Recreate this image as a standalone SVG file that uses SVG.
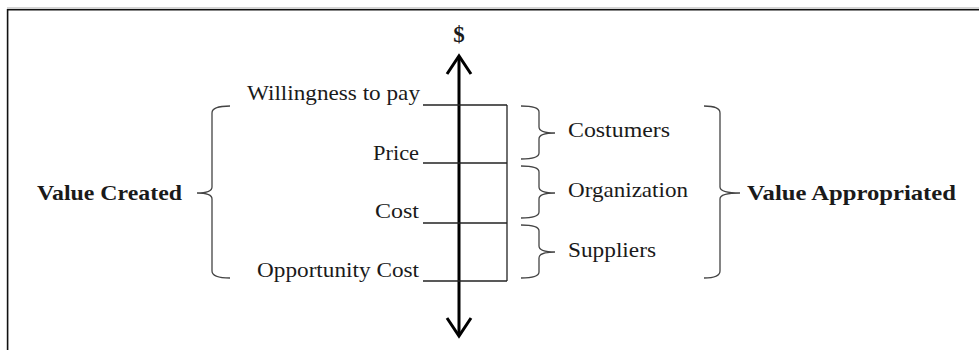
<svg xmlns="http://www.w3.org/2000/svg" width="979" height="350" viewBox="0 0 979 350">
<style>
.t{font-family:"Liberation Serif","Times New Roman",serif;font-size:22px;fill:#1a1a1a}
.b{font-family:"Liberation Serif","Times New Roman",serif;font-size:21.5px;font-weight:bold;fill:#1a1a1a}
.br{fill:none;stroke:#444;stroke-width:1.3}
.ln{fill:none;stroke:#222;stroke-width:1.3}
.ar{fill:none;stroke:#000;stroke-width:3}
</style>
<rect width="979" height="350" fill="#fff"/>
<g id="frame">
<line x1="7" y1="8" x2="979" y2="8" stroke="#aaa" stroke-width="1"/>
<line x1="7" y1="9.8" x2="979" y2="9.8" stroke="#111" stroke-width="1.6"/>
<line x1="7.6" y1="9" x2="7.6" y2="350" stroke="#111" stroke-width="1.6"/>
</g>
<g id="connectors">
<line class="ar" x1="459" y1="56" x2="459" y2="336"/>
<polyline class="ar" points="447,74 459,56 471,74"/>
<polyline class="ar" points="447,318 459,336 471,318"/>
</g>
<g id="dollar"><text class="b" x="459" y="42" text-anchor="middle" style="font-size:23px">$</text></g>
<g id="box">
<line class="ln" x1="423" y1="105" x2="507" y2="105"/>
<line class="ln" x1="423" y1="163" x2="507" y2="163"/>
<line class="ln" x1="423" y1="223" x2="507" y2="223"/>
<line class="ln" x1="423" y1="281" x2="507" y2="281"/>
<line class="ln" x1="507" y1="105" x2="507" y2="281"/>
</g>
<g id="wtp"><text class="t" x="247" y="100" textLength="173" lengthAdjust="spacingAndGlyphs">Willingness to pay</text></g>
<g id="price"><text class="t" x="373" y="160" textLength="46" lengthAdjust="spacingAndGlyphs">Price</text></g>
<g id="cost"><text class="t" x="375" y="218" textLength="44" lengthAdjust="spacingAndGlyphs">Cost</text></g>
<g id="oppcost"><text class="t" x="257" y="277" textLength="162" lengthAdjust="spacingAndGlyphs">Opportunity Cost</text></g>
<g id="value-created">
<path class="br" d="M230 106 Q212 106 212 113 L212 187 Q212 193 197 193 Q212 193 212 199 L212 271 Q212 278 230 278"/>
<text class="b" x="37" y="200" textLength="145" lengthAdjust="spacingAndGlyphs">Value Created</text>
</g>
<g id="costumers">
<path class="br" d="M521 106 Q539 106 539 112 L539 127 Q539 133 555 133 Q539 133 539 139 L539 153 Q539 159 521 159"/>
<text class="t" x="568" y="137" textLength="102" lengthAdjust="spacingAndGlyphs">Costumers</text>
</g>
<g id="organization">
<path class="br" d="M521 166 Q539 166 539 172 L539 187 Q539 193 555 193 Q539 193 539 199 L539 212 Q539 218 521 218"/>
<text class="t" x="568" y="197" textLength="120" lengthAdjust="spacingAndGlyphs">Organization</text>
</g>
<g id="suppliers">
<path class="br" d="M521 225 Q539 225 539 231 L539 246 Q539 252 555 252 Q539 252 539 258 L539 272 Q539 278 521 278"/>
<text class="t" x="568" y="257" textLength="88" lengthAdjust="spacingAndGlyphs">Suppliers</text>
</g>
<g id="value-appropriated">
<path class="br" d="M704 106 Q720 106 720 113 L720 187 Q720 193 740 193 Q720 193 720 199 L720 271 Q720 278 704 278"/>
<text class="b" x="747" y="200" textLength="209" lengthAdjust="spacingAndGlyphs">Value Appropriated</text>
</g>
</svg>
